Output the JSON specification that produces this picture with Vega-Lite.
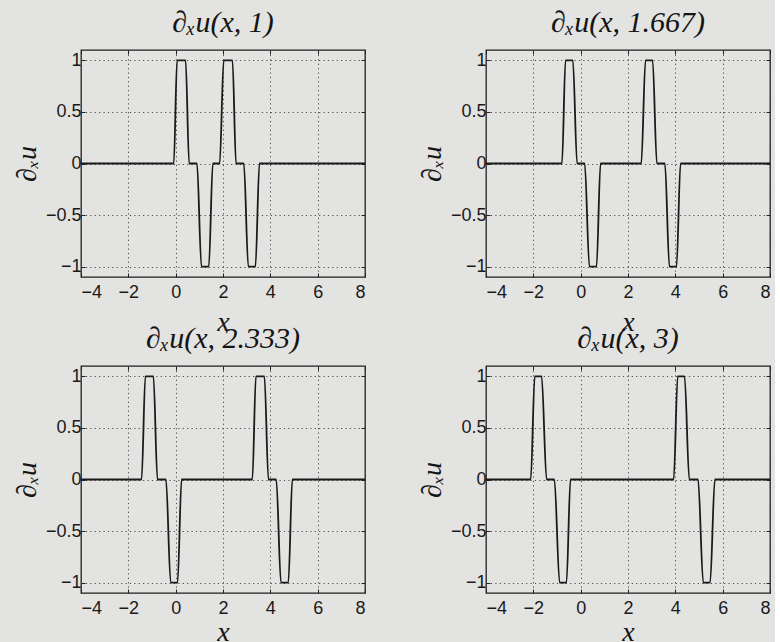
{
  "$schema": "https://vega.github.io/schema/vega-lite/v6.json",
  "background": "#e3e3e1",
  "padding": {"left": 12, "top": 6, "right": 0, "bottom": 0},
  "config": {
    "view": {"stroke": "#1e1e1e", "strokeWidth": 1.3},
    "axis": {
      "grid": true,
      "gridColor": "#4a4a4a",
      "gridDash": [1.2, 3.2],
      "gridWidth": 1,
      "domain": false,
      "ticks": true,
      "tickSize": -4,
      "tickColor": "#222",
      "tickWidth": 1,
      "labelFont": "Liberation Sans",
      "labelFontSize": 18,
      "labelColor": "#1a1a1a",
      "titleFont": "Liberation Serif",
      "titleFontStyle": "italic",
      "titleFontSize": 28,
      "titleFontWeight": "normal",
      "titleColor": "#141414"
    },
    "line": {"color": "#1a1a1a", "strokeWidth": 1.8, "interpolate": "monotone"},
    "title": {
      "font": "Liberation Serif",
      "fontStyle": "italic",
      "fontSize": 30,
      "fontWeight": "normal",
      "color": "#141414",
      "anchor": "middle",
      "offset": 12
    }
  },
  "data": {
    "values": [
      {"t": 1, "x": -4, "y": 0},
      {"t": 1, "x": -0.08, "y": 0},
      {"t": 1, "x": 0.06, "y": 1},
      {"t": 1, "x": 0.42, "y": 1},
      {"t": 1, "x": 0.57, "y": 0},
      {"t": 1, "x": 0.90, "y": 0},
      {"t": 1, "x": 1.09, "y": -1},
      {"t": 1, "x": 1.40, "y": -1},
      {"t": 1, "x": 1.57, "y": 0},
      {"t": 1, "x": 1.86, "y": 0},
      {"t": 1, "x": 2.03, "y": 1},
      {"t": 1, "x": 2.40, "y": 1},
      {"t": 1, "x": 2.55, "y": 0},
      {"t": 1, "x": 2.88, "y": 0},
      {"t": 1, "x": 3.07, "y": -1},
      {"t": 1, "x": 3.37, "y": -1},
      {"t": 1, "x": 3.54, "y": 0},
      {"t": 1, "x": 8, "y": 0},

      {"t": 1.667, "x": -4, "y": 0},
      {"t": 1.667, "x": -0.79, "y": 0},
      {"t": 1.667, "x": -0.64, "y": 1},
      {"t": 1.667, "x": -0.33, "y": 1},
      {"t": 1.667, "x": -0.15, "y": 0},
      {"t": 1.667, "x": 0.17, "y": 0},
      {"t": 1.667, "x": 0.37, "y": -1},
      {"t": 1.667, "x": 0.67, "y": -1},
      {"t": 1.667, "x": 0.84, "y": 0},
      {"t": 1.667, "x": 2.56, "y": 0},
      {"t": 1.667, "x": 2.74, "y": 1},
      {"t": 1.667, "x": 3.04, "y": 1},
      {"t": 1.667, "x": 3.22, "y": 0},
      {"t": 1.667, "x": 3.56, "y": 0},
      {"t": 1.667, "x": 3.75, "y": -1},
      {"t": 1.667, "x": 4.05, "y": -1},
      {"t": 1.667, "x": 4.22, "y": 0},
      {"t": 1.667, "x": 8, "y": 0},

      {"t": 2.333, "x": -4, "y": 0},
      {"t": 2.333, "x": -1.44, "y": 0},
      {"t": 2.333, "x": -1.28, "y": 1},
      {"t": 2.333, "x": -0.94, "y": 1},
      {"t": 2.333, "x": -0.77, "y": 0},
      {"t": 2.333, "x": -0.41, "y": 0},
      {"t": 2.333, "x": -0.21, "y": -1},
      {"t": 2.333, "x": 0.08, "y": -1},
      {"t": 2.333, "x": 0.25, "y": 0},
      {"t": 2.333, "x": 3.24, "y": 0},
      {"t": 2.333, "x": 3.39, "y": 1},
      {"t": 2.333, "x": 3.75, "y": 1},
      {"t": 2.333, "x": 3.92, "y": 0},
      {"t": 2.333, "x": 4.25, "y": 0},
      {"t": 2.333, "x": 4.45, "y": -1},
      {"t": 2.333, "x": 4.76, "y": -1},
      {"t": 2.333, "x": 4.93, "y": 0},
      {"t": 2.333, "x": 8, "y": 0},

      {"t": 3, "x": -4, "y": 0},
      {"t": 3, "x": -2.11, "y": 0},
      {"t": 3, "x": -1.94, "y": 1},
      {"t": 3, "x": -1.65, "y": 1},
      {"t": 3, "x": -1.44, "y": 0},
      {"t": 3, "x": -1.11, "y": 0},
      {"t": 3, "x": -0.89, "y": -1},
      {"t": 3, "x": -0.60, "y": -1},
      {"t": 3, "x": -0.43, "y": 0},
      {"t": 3, "x": 3.93, "y": 0},
      {"t": 3, "x": 4.10, "y": 1},
      {"t": 3, "x": 4.39, "y": 1},
      {"t": 3, "x": 4.59, "y": 0},
      {"t": 3, "x": 4.96, "y": 0},
      {"t": 3, "x": 5.18, "y": -1},
      {"t": 3, "x": 5.47, "y": -1},
      {"t": 3, "x": 5.67, "y": 0},
      {"t": 3, "x": 8, "y": 0}
    ]
  },
  "columns": 2,
  "bounds": "flush",
  "spacing": {"row": 89, "column": 121},
  "concat": [
    {
      "title": "∂ₓu(x, 1)",
      "width": 284,
      "height": 227,
      "transform": [{"filter": "datum.t === 1"}],
      "layer": [
        {
          "mark": "line",
          "encoding": {
            "x": {"field": "x", "type": "quantitative", "scale": {"domain": [-4, 8], "nice": false, "zero": false},
                  "axis": {"title": "x", "values": [-4, -2, 0, 2, 4, 6, 8], "format": "~g", "labelPadding": 10, "titlePadding": 7}},
            "y": {"field": "y", "type": "quantitative", "scale": {"domain": [-1.1, 1.1], "nice": false},
                  "axis": {"title": "∂ₓu", "values": [-1, -0.5, 0, 0.5, 1], "format": "~g", "labelPadding": 4, "titlePadding": 4}}
          }
        },
        {
          "mark": {"type": "line", "strokeOpacity": 0},
          "encoding": {
            "x": {"field": "x", "type": "quantitative", "axis": {"orient": "top", "title": null, "labels": false, "grid": false, "values": [-4, -2, 0, 2, 4, 6, 8]}},
            "y": {"field": "y", "type": "quantitative", "axis": {"orient": "right", "title": null, "labels": false, "grid": false, "values": [-1, -0.5, 0, 0.5, 1]}}
          }
        }
      ],
      "resolve": {"axis": {"x": "independent", "y": "independent"}}
    },
    {
      "title": "∂ₓu(x, 1.667)",
      "width": 284,
      "height": 227,
      "transform": [{"filter": "datum.t === 1.667"}],
      "layer": [
        {
          "mark": "line",
          "encoding": {
            "x": {"field": "x", "type": "quantitative", "scale": {"domain": [-4, 8], "nice": false, "zero": false},
                  "axis": {"title": "x", "values": [-4, -2, 0, 2, 4, 6, 8], "format": "~g", "labelPadding": 10, "titlePadding": 7}},
            "y": {"field": "y", "type": "quantitative", "scale": {"domain": [-1.1, 1.1], "nice": false},
                  "axis": {"title": "∂ₓu", "values": [-1, -0.5, 0, 0.5, 1], "format": "~g", "labelPadding": 4, "titlePadding": 4}}
          }
        },
        {
          "mark": {"type": "line", "strokeOpacity": 0},
          "encoding": {
            "x": {"field": "x", "type": "quantitative", "axis": {"orient": "top", "title": null, "labels": false, "grid": false, "values": [-4, -2, 0, 2, 4, 6, 8]}},
            "y": {"field": "y", "type": "quantitative", "axis": {"orient": "right", "title": null, "labels": false, "grid": false, "values": [-1, -0.5, 0, 0.5, 1]}}
          }
        }
      ],
      "resolve": {"axis": {"x": "independent", "y": "independent"}}
    },
    {
      "title": "∂ₓu(x, 2.333)",
      "width": 284,
      "height": 227,
      "transform": [{"filter": "datum.t === 2.333"}],
      "layer": [
        {
          "mark": "line",
          "encoding": {
            "x": {"field": "x", "type": "quantitative", "scale": {"domain": [-4, 8], "nice": false, "zero": false},
                  "axis": {"title": "x", "values": [-4, -2, 0, 2, 4, 6, 8], "format": "~g", "labelPadding": 10, "titlePadding": 1}},
            "y": {"field": "y", "type": "quantitative", "scale": {"domain": [-1.1, 1.1], "nice": false},
                  "axis": {"title": "∂ₓu", "values": [-1, -0.5, 0, 0.5, 1], "format": "~g", "labelPadding": 4, "titlePadding": 4}}
          }
        },
        {
          "mark": {"type": "line", "strokeOpacity": 0},
          "encoding": {
            "x": {"field": "x", "type": "quantitative", "axis": {"orient": "top", "title": null, "labels": false, "grid": false, "values": [-4, -2, 0, 2, 4, 6, 8]}},
            "y": {"field": "y", "type": "quantitative", "axis": {"orient": "right", "title": null, "labels": false, "grid": false, "values": [-1, -0.5, 0, 0.5, 1]}}
          }
        }
      ],
      "resolve": {"axis": {"x": "independent", "y": "independent"}}
    },
    {
      "title": "∂ₓu(x, 3)",
      "width": 284,
      "height": 227,
      "transform": [{"filter": "datum.t === 3"}],
      "layer": [
        {
          "mark": "line",
          "encoding": {
            "x": {"field": "x", "type": "quantitative", "scale": {"domain": [-4, 8], "nice": false, "zero": false},
                  "axis": {"title": "x", "values": [-4, -2, 0, 2, 4, 6, 8], "format": "~g", "labelPadding": 10, "titlePadding": 1}},
            "y": {"field": "y", "type": "quantitative", "scale": {"domain": [-1.1, 1.1], "nice": false},
                  "axis": {"title": "∂ₓu", "values": [-1, -0.5, 0, 0.5, 1], "format": "~g", "labelPadding": 4, "titlePadding": 4}}
          }
        },
        {
          "mark": {"type": "line", "strokeOpacity": 0},
          "encoding": {
            "x": {"field": "x", "type": "quantitative", "axis": {"orient": "top", "title": null, "labels": false, "grid": false, "values": [-4, -2, 0, 2, 4, 6, 8]}},
            "y": {"field": "y", "type": "quantitative", "axis": {"orient": "right", "title": null, "labels": false, "grid": false, "values": [-1, -0.5, 0, 0.5, 1]}}
          }
        }
      ],
      "resolve": {"axis": {"x": "independent", "y": "independent"}}
    }
  ]
}
